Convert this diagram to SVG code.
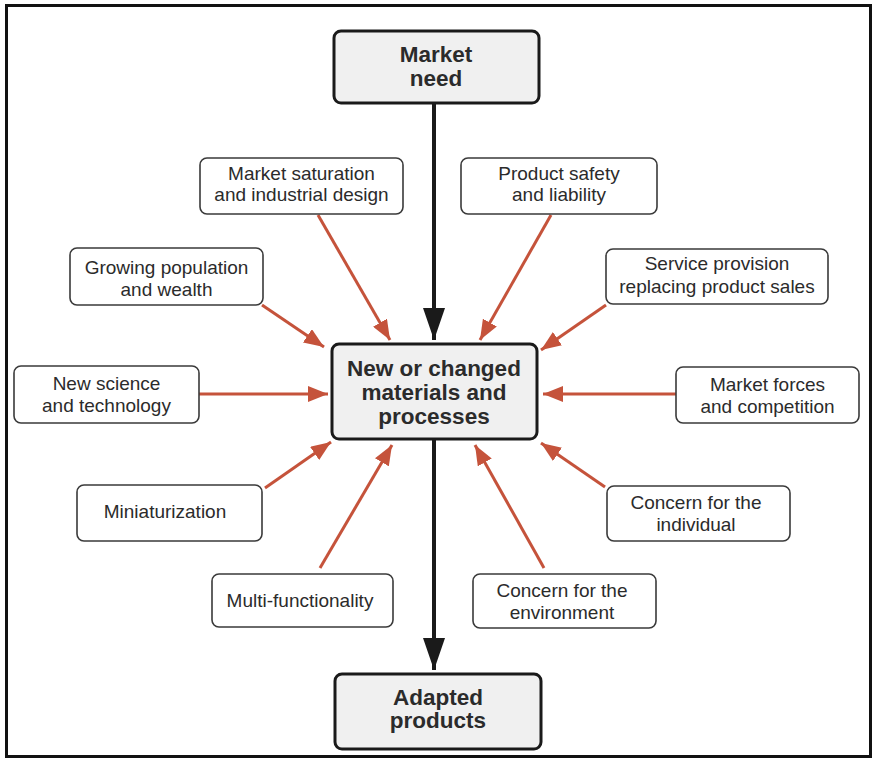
<svg xmlns="http://www.w3.org/2000/svg" width="874" height="759" viewBox="0 0 874 759">
<style>
.main rect{fill:#f0f0f0;stroke:#1a1a1a;stroke-width:3}
.main text{font-family:"Liberation Sans",Arial,sans-serif;font-weight:bold;font-size:22.5px;fill:#2b2b2b;text-anchor:middle}
.sub rect{fill:#ffffff;stroke:#3a3a3a;stroke-width:1.6}
.sub text{font-family:"Liberation Sans",Arial,sans-serif;font-size:19px;fill:#2b2b2b;text-anchor:middle}
.red{stroke:#c5533b;stroke-width:3;fill:none;marker-end:url(#rh)}
.blk{stroke:#1a1a1a;stroke-width:4;fill:none;marker-end:url(#bh)}
</style>
<defs>
<marker id="rh" markerUnits="userSpaceOnUse" markerWidth="20" markerHeight="16" refX="20" refY="8" orient="auto">
<path d="M0,0 L20,8 L0,16 z" fill="#c5533b"/>
</marker>
<marker id="bh" markerUnits="userSpaceOnUse" markerWidth="32" markerHeight="22" refX="32" refY="11" orient="auto">
<path d="M0,0 L32,11 L0,22 z" fill="#1a1a1a"/>
</marker>
</defs>
<rect x="6.5" y="5.5" width="864" height="751" fill="#ffffff" stroke="#111" stroke-width="3"/>
<g id="connectors">
<line class="blk" x1="434" y1="103" x2="434" y2="340"/>
<line class="blk" x1="434" y1="439" x2="434" y2="670"/>
<line class="red" x1="318" y1="215" x2="390" y2="340"/>
<line class="red" x1="262" y1="305" x2="324" y2="347"/>
<line class="red" x1="551" y1="215" x2="480" y2="340"/>
<line class="red" x1="606" y1="305" x2="541" y2="350"/>
<line class="red" x1="199" y1="394" x2="328" y2="394"/>
<line class="red" x1="676" y1="394" x2="543" y2="394"/>
<line class="red" x1="265" y1="488" x2="331" y2="442"/>
<line class="red" x1="320" y1="568" x2="392" y2="445"/>
<line class="red" x1="544" y1="568" x2="475" y2="445"/>
<line class="red" x1="605" y1="487" x2="541" y2="443"/>
</g>
<g id="market-need" class="main">
<rect x="334" y="31" width="205" height="72" rx="7"/>
<text x="436" y="62">Market</text>
<text x="436" y="86">need</text>
</g>
<g id="new-materials" class="main">
<rect x="332" y="344" width="205" height="95" rx="7"/>
<text x="434" y="376">New or changed</text>
<text x="434" y="400">materials and</text>
<text x="434" y="424">processes</text>
</g>
<g id="adapted-products" class="main">
<rect x="335" y="674" width="206" height="75" rx="7"/>
<text x="438" y="705">Adapted</text>
<text x="438" y="728">products</text>
</g>
<g id="market-saturation" class="sub">
<rect x="200" y="158" width="203" height="56" rx="7"/>
<text x="301.5" y="180">Market saturation</text>
<text x="301.5" y="201">and industrial design</text>
</g>
<g id="product-safety" class="sub">
<rect x="461" y="158" width="196" height="56" rx="7"/>
<text x="559" y="180">Product safety</text>
<text x="559" y="201">and liability</text>
</g>
<g id="growing-population" class="sub">
<rect x="70" y="248" width="193" height="57" rx="7"/>
<text x="166.5" y="274">Growing population</text>
<text x="166.5" y="296">and wealth</text>
</g>
<g id="service-provision" class="sub">
<rect x="606" y="249" width="222" height="55" rx="7"/>
<text x="717" y="270">Service provision</text>
<text x="717" y="293">replacing product sales</text>
</g>
<g id="new-science" class="sub">
<rect x="14" y="366" width="185" height="57" rx="7"/>
<text x="106.5" y="390">New science</text>
<text x="106.5" y="412">and technology</text>
</g>
<g id="market-forces" class="sub">
<rect x="676" y="367" width="183" height="56" rx="7"/>
<text x="767.5" y="391">Market forces</text>
<text x="767.5" y="413">and competition</text>
</g>
<g id="miniaturization" class="sub">
<rect x="77" y="485" width="185" height="56" rx="7"/>
<text x="165" y="518">Miniaturization</text>
</g>
<g id="concern-individual" class="sub">
<rect x="607" y="486" width="183" height="55" rx="7"/>
<text x="696" y="509">Concern for the</text>
<text x="696" y="531">individual</text>
</g>
<g id="multi-functionality" class="sub">
<rect x="212" y="574" width="181" height="53" rx="7"/>
<text x="300" y="607">Multi-functionality</text>
</g>
<g id="concern-environment" class="sub">
<rect x="473" y="574" width="183" height="54" rx="7"/>
<text x="562" y="597">Concern for the</text>
<text x="562" y="619">environment</text>
</g>
</svg>
